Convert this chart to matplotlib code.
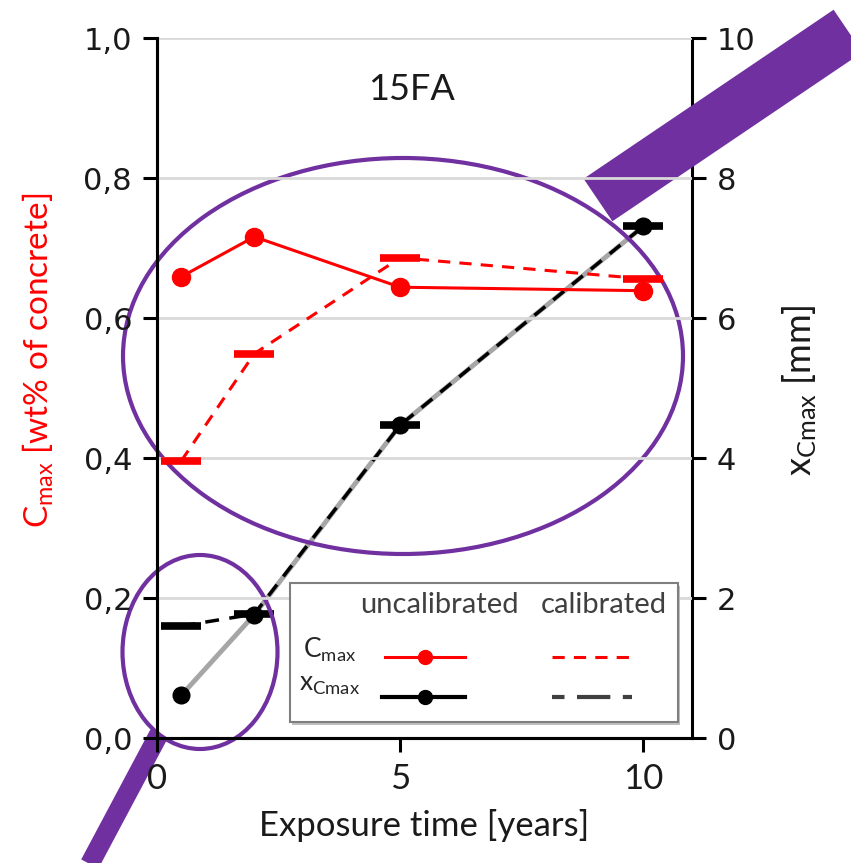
import matplotlib
matplotlib.use("Agg")
import matplotlib.pyplot as plt
from matplotlib.patches import Ellipse, Rectangle
from matplotlib.lines import Line2D

# Daten: Expositionszeit in Jahren
years = [0.5, 2, 5, 10]
cmax_uncal = [0.659, 0.716, 0.644, 0.639]
cmax_cal = [0.396, 0.549, 0.686, 0.656]
xcmax_uncal = [0.61, 1.76, 4.47, 7.31]
xcmax_cal = [1.60, 1.77, 4.47, 7.31]

y_ticks = [0.0, 0.2, 0.4, 0.6, 0.8, 1.0]
y2_ticks = [0, 2, 4, 6, 8, 10]
x_ticks = [0, 5, 10]

RED = "#FF0000"
PURPLE = "#7030A0"
LBL = "Lato"

plt.rcParams["mathtext.fontset"] = "custom"
plt.rcParams["mathtext.rm"] = LBL
plt.rcParams["mathtext.it"] = LBL

fig = plt.figure(figsize=(8.51, 8.63), dpi=100)
ax = fig.add_axes([157 / 851, 1 - 738 / 863, 535 / 851, 700 / 863])
ax2 = ax.twinx()

ax.set_xlim(0, 11)
ax.set_ylim(0, 1.0)
ax2.set_ylim(0, 10)

ax.set_yticks(y_ticks)
ax.set_yticklabels([f"{v:.1f}".replace(".", ",") for v in y_ticks],
                   fontsize=22, family="DejaVu Sans", color="#1a1a1a")
ax2.set_yticks(y2_ticks)
ax2.set_yticklabels([str(v) for v in y2_ticks], fontsize=22,
                    family="DejaVu Sans", color="#1a1a1a")
ax.set_xticks(x_ticks)
ax.set_xticklabels([str(v) for v in x_ticks], fontsize=25, family=LBL,
                   color="#1a1a1a")

ax.grid(axis="y", color="#D9D9D9", linewidth=2)
ax.set_axisbelow(True)
for a in (ax, ax2):
    a.spines["top"].set_visible(False)
    for s in ("left", "right", "bottom"):
        a.spines[s].set_linewidth(2.2)
ax.spines["right"].set_visible(False)
ax.tick_params(axis="both", direction="out", length=10, width=2.2, pad=8)
ax2.tick_params(axis="y", direction="out", length=10, width=2.2, pad=8)

# xCmax auf der rechten Achse
ax2.plot(years, xcmax_uncal, color="#A6A6A6", linewidth=3.5, zorder=2)
ax2.plot(years, xcmax_uncal, linestyle="none", marker="o", markersize=12,
         color="black", zorder=3)
ax2.plot(years, xcmax_cal, color="black", linewidth=2.5, dashes=(4, 3),
         marker="_", markersize=29, markeredgewidth=5.5, zorder=4)

# Cmax auf der linken Achse
ax.set_zorder(ax2.get_zorder() + 1)
ax.patch.set_visible(False)
ax.plot(years, cmax_uncal, color=RED, linewidth=2.2, marker="o",
        markersize=13, zorder=3)
ax.plot(years, cmax_cal, color=RED, linewidth=2.2, dashes=(4, 3),
        marker="_", markersize=29, markeredgewidth=5.5, zorder=4)

ax.text(0.475, 0.95, "15FA", transform=ax.transAxes, ha="center", va="top",
        fontsize=26, family=LBL, color="#1a1a1a")

ax.set_xlabel("Exposure time [years]", fontsize=25, family=LBL,
              color="#1a1a1a", labelpad=10)
fig.text(38 / 851, 1 - 360 / 863, r"C$_{\mathrm{max}}$ [wt% of concrete]",
         rotation=90, ha="center", va="center", fontsize=24, family=LBL,
         color=RED)
fig.text(800 / 851, 1 - 390 / 863, r"x$_{\mathrm{Cmax}}$ [mm]",
         rotation=90, ha="center", va="center", fontsize=26, family=LBL,
         color="#1a1a1a")

# Legende von Hand
lx0, ly0, lw, lh = 0.249, 0.023, 0.725, 0.198
ax.add_patch(Rectangle((lx0 + 0.004, ly0 - 0.004), lw, lh,
                       transform=ax.transAxes, facecolor="#BFBFBF",
                       edgecolor="none", zorder=9))
ax.add_patch(Rectangle((lx0, ly0), lw, lh, transform=ax.transAxes,
                       facecolor="white", edgecolor="#7F7F7F",
                       linewidth=1.5, zorder=10))
ax.text(0.527, 0.19, "uncalibrated", transform=ax.transAxes, ha="center",
        va="center", fontsize=21, family=LBL, color="#404040", zorder=11)
ax.text(0.836, 0.19, "calibrated", transform=ax.transAxes, ha="center",
        va="center", fontsize=21, family=LBL, color="#404040", zorder=11)
ax.text(0.323, 0.126, r"C$_{\mathrm{max}}$", transform=ax.transAxes,
        ha="center", va="center", fontsize=19, family=LBL, color="#262626",
        zorder=11)
ax.text(0.323, 0.076, r"x$_{\mathrm{Cmax}}$", transform=ax.transAxes,
        ha="center", va="center", fontsize=19, family=LBL, color="#262626",
        zorder=11)
ax.add_line(Line2D([0.426, 0.501, 0.576], [0.116, 0.116, 0.116],
                   transform=ax.transAxes, color=RED, linewidth=2.2,
                   marker="o", markersize=10, markevery=[1], zorder=11))
ax.add_line(Line2D([0.420, 0.501, 0.576], [0.059, 0.059, 0.059],
                   transform=ax.transAxes, color="black", linewidth=3,
                   marker="o", markersize=10, markevery=[1], zorder=11))
ax.add_line(Line2D([0.738, 0.888], [0.116, 0.116], transform=ax.transAxes,
                   color=RED, linewidth=2.2, dashes=(4, 3), zorder=11))
ax.add_line(Line2D([0.738, 0.888], [0.058, 0.058], transform=ax.transAxes,
                   color="#404040", linewidth=3, dashes=(3, 3, 8, 3),
                   zorder=11))

# violette Markierungen ueber dem Diagramm
ov = fig.add_axes([0, 0, 1, 1])
ov.set_xlim(0, 851)
ov.set_ylim(863, 0)
ov.axis("off")
ov.add_patch(Ellipse((403, 356), 560, 396, fill=False, edgecolor=PURPLE,
                     linewidth=3))
ov.add_patch(Ellipse((200, 652), 155, 194, fill=False, edgecolor=PURPLE,
                     linewidth=3))
ov.plot([598, 848], [200, 31], color=PURPLE, linewidth=37,
        solid_capstyle="butt")
ov.plot([159, 85], [734, 873], color=PURPLE, linewidth=14,
        solid_capstyle="butt")

fig.savefig("out.png", dpi=100)
